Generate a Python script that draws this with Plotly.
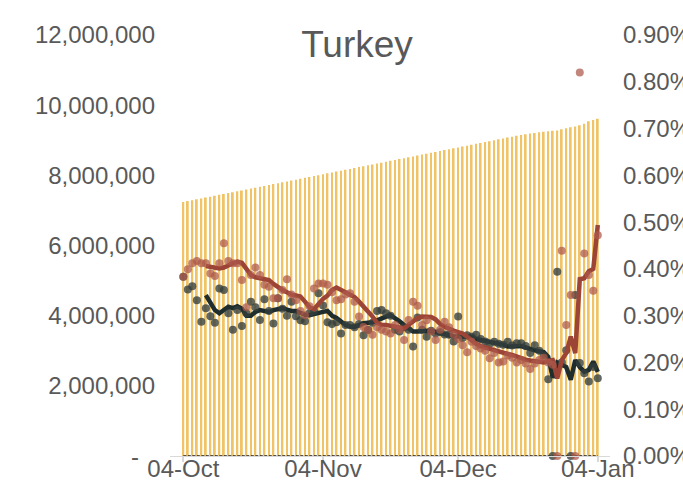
import pandas as pd
import plotly.graph_objects as go

# ---- data ----
start_date = "2020-10-04"
end_date = "2021-01-04"

# cumulative bar series, in thousands (left axis)
bars_k = [
    7240, 7266, 7291, 7316, 7342, 7367, 7393, 7418, 7444, 7469,
    7495, 7520, 7546, 7571, 7597, 7622, 7648, 7673, 7699, 7724,
    7750, 7775, 7801, 7826, 7852, 7877, 7903, 7928, 7954, 7979,
    8005, 8030, 8056, 8081, 8107, 8132, 8158, 8183, 8209, 8234,
    8260, 8285, 8311, 8336, 8362, 8387, 8413, 8438, 8464, 8489,
    8515, 8540, 8566, 8591, 8617, 8642, 8668, 8693, 8719, 8744,
    8770, 8795, 8821, 8846, 8872, 8897, 8923, 8948, 8974, 8999,
    9025, 9050, 9076, 9101, 9127, 9152, 9170, 9190, 9210, 9228,
    9245, 9258, 9270, 9280, 9310, 9345, 9370, 9390, 9430, 9470,
    9540, 9575, 9610,
]

# daily dots, percent (right axis)
dark_dots = [
    0.383, 0.356, 0.363, 0.333, 0.287, 0.316, 0.299, 0.285, 0.358, 0.355,
    0.305, 0.270, 0.312, 0.278, 0.305, 0.330, 0.318, 0.291, 0.335, 0.310,
    0.283, 0.337, 0.315, 0.300, 0.330, 0.299, 0.290, 0.288, 0.305, 0.310,
    0.348, 0.322, 0.286, 0.282, 0.286, 0.262, 0.280, 0.280, 0.275, 0.282,
    0.258, 0.270, 0.285, 0.310, 0.312, 0.305, 0.300, 0.270, 0.266, 0.275,
    0.270, 0.234, 0.296, 0.270, 0.255, 0.268, 0.262, 0.265, 0.260, 0.259,
    0.245, 0.298, 0.252, 0.258, 0.255, 0.259, 0.250, 0.245, 0.240, 0.244,
    0.240, 0.238, 0.244, 0.236, 0.241, 0.241, 0.235, 0.220, 0.237, 0.225,
    0.215, 0.164, 0.0, 0.394, 0.200, 0.226, 0.0, 0.344, 0.199, 0.177,
    0.159, 0.190, 0.166,
]
brown_dots = [
    0.383, 0.399, 0.412, 0.417, 0.412, 0.412, 0.390, 0.385, 0.412, 0.455,
    0.417, 0.412, 0.412, 0.376, 0.318, 0.387, 0.403, 0.387, 0.366, 0.362,
    0.337, 0.337, 0.355, 0.378, 0.345, 0.333, 0.310, 0.301, 0.320, 0.358,
    0.369, 0.369, 0.366, 0.350, 0.333, 0.335, 0.345, 0.348, 0.330, 0.298,
    0.276, 0.269, 0.259, 0.275, 0.270, 0.266, 0.262, 0.280, 0.270, 0.248,
    0.291, 0.330, 0.321, 0.280, 0.290, 0.266, 0.248, 0.270, 0.287, 0.275,
    0.260, 0.250, 0.237, 0.222, 0.244, 0.235, 0.230, 0.225, 0.209, 0.220,
    0.200, 0.202, 0.215, 0.210, 0.200, 0.205, 0.198, 0.186, 0.198, 0.205,
    0.210, 0.200, 0.195, 0.0, 0.439, 0.280, 0.344, 0.0, 0.820, 0.433,
    0.387, 0.353, 0.472,
]

# smoothed lines, percent (right axis); None where not drawn
dark_line = [None] * 5 + [
    0.344, 0.330, 0.312, 0.305, 0.312, 0.319, 0.316, 0.320, 0.315, 0.300,
    0.300, 0.308, 0.312, 0.310, 0.308, 0.312, 0.314, 0.316, 0.313, 0.310,
    0.310, 0.306, 0.302, 0.301, 0.304, 0.306, 0.308, 0.310, 0.300, 0.295,
    0.288, 0.280, 0.277, 0.276, 0.280, 0.284, 0.285, 0.286, 0.290, 0.295,
    0.298, 0.301, 0.295, 0.288, 0.280, 0.272, 0.266, 0.266, 0.266, 0.267,
    0.268, 0.265, 0.262, 0.259, 0.258, 0.256, 0.255, 0.255, 0.255, 0.255,
    0.250, 0.248, 0.246, 0.245, 0.244, 0.242, 0.238, 0.234, 0.234, 0.234,
    0.235, 0.232, 0.228, 0.226, 0.224, 0.222, 0.212, 0.167, 0.200, 0.195,
    0.190, 0.163, 0.205, 0.190, 0.180, 0.184, 0.202, 0.180,
]
brown_line = [None] * 5 + [
    0.406, 0.404, 0.401, 0.401, 0.403, 0.408, 0.412, 0.415, 0.413, 0.400,
    0.387, 0.382, 0.380, 0.379, 0.376, 0.368, 0.360, 0.355, 0.350, 0.345,
    0.343, 0.341, 0.330, 0.318, 0.314, 0.325, 0.336, 0.343, 0.355, 0.360,
    0.355, 0.350, 0.345, 0.340, 0.330, 0.320, 0.308, 0.298, 0.285, 0.280,
    0.280, 0.279, 0.278, 0.275, 0.273, 0.280, 0.288, 0.295, 0.298, 0.298,
    0.297, 0.292, 0.282, 0.276, 0.271, 0.268, 0.265, 0.262, 0.255, 0.246,
    0.240, 0.235, 0.232, 0.228, 0.225, 0.222, 0.220, 0.218, 0.216, 0.212,
    0.208, 0.206, 0.204, 0.202, 0.200, 0.200, 0.203, 0.205, 0.166, 0.205,
    0.220, 0.255, 0.220, 0.378, 0.380, 0.395, 0.400, 0.494,
]

left_tickvals = [2000000, 4000000, 6000000, 8000000, 10000000, 12000000]
left_ticktext = ["2,000,000", "4,000,000", "6,000,000",
                 "8,000,000", "10,000,000", "12,000,000"]
zero_label = "-"
x_tickvals = ["2020-10-04", "2020-11-04", "2020-12-04", "2021-01-04"]
x_ticktext = ["04-Oct", "04-Nov", "04-Dec", "04-Jan"]
title_text = "Turkey"

# ---- figure ----
dates = pd.date_range(start_date, end_date, freq="D")
bars = [v * 1000 for v in bars_k]
pct = lambda arr: [None if v is None else v / 100 for v in arr]

FONT = "Liberation Sans, Arial, sans-serif"
GREY = "#595959"

fig = go.Figure()
fig.add_trace(go.Bar(x=dates, y=bars, marker=dict(color="#F0C466", line_width=0),
                     yaxis="y", hoverinfo="skip"))
# zero baseline (dashed)
fig.add_trace(go.Scatter(x=[dates[0], dates[-1]], y=[0, 0], mode="lines",
                         line=dict(color="#1a1a1a", width=1.5, dash="3px,1.5px"),
                         yaxis="y", hoverinfo="skip"))
fig.add_trace(go.Scatter(x=dates, y=pct(dark_line), mode="lines",
                         line=dict(color="#1F2D2D", width=4.5), yaxis="y2",
                         connectgaps=False))
fig.add_trace(go.Scatter(x=dates, y=pct(dark_dots), mode="markers",
                         marker=dict(color="rgba(50,62,60,0.78)", size=8, line_width=0),
                         yaxis="y2", cliponaxis=False))
fig.add_trace(go.Scatter(x=dates, y=pct(brown_line), mode="lines",
                         line=dict(color="#9C4436", width=4.5), yaxis="y2",
                         connectgaps=False))
fig.add_trace(go.Scatter(x=dates, y=pct(brown_dots), mode="markers",
                         marker=dict(color="rgba(172,88,74,0.72)", size=8, line_width=0),
                         yaxis="y2", cliponaxis=False))

# zero tick label of the left axis (accounting-style dash)
fig.add_annotation(text=zero_label, xref="paper", x=-29 / 440, xanchor="right",
                   yref="y", y=0, yanchor="middle", showarrow=False,
                   font=dict(family=FONT, size=24, color=GREY))

fig.update_layout(
    width=683, height=495,
    margin=dict(l=170, r=73, t=35, b=39),
    paper_bgcolor="white", plot_bgcolor="white",
    showlegend=False,
    bargap=0.6,
    font=dict(family=FONT, color=GREY, size=24),
    title=dict(text=title_text, x=357 / 683, xanchor="center", xref="container",
               y=1 - 44 / 495, yanchor="middle", yref="container",
               font=dict(family=FONT, size=37, color=GREY)),
    xaxis=dict(
        type="date",
        range=["2020-10-01 01:00", "2021-01-06 17:00"],
        tickvals=x_tickvals, ticktext=x_ticktext,
        ticks="outside", ticklen=5, tickcolor="#D9D9D9", tickwidth=1.5,
        ticklabelstandoff=-14,
        showline=True, linecolor="#D9D9D9", linewidth=1,
        showgrid=False, zeroline=False,
        tickfont=dict(size=24, color=GREY, family=FONT),
        automargin=False,
    ),
    yaxis=dict(
        range=[0, 12000000],
        tickvals=left_tickvals, ticktext=left_ticktext,
        showgrid=False, zeroline=False, showline=False,
        ticks="", ticklabelstandoff=14,
        tickfont=dict(size=24, color=GREY, family=FONT),
        automargin=False,
    ),
    yaxis2=dict(
        range=[0, 0.009], overlaying="y", side="right",
        tickformat=".2%", dtick=0.001, tick0=0,
        showgrid=False, zeroline=False, showline=False,
        ticks="", ticklabelstandoff=12,
        tickfont=dict(size=24, color=GREY, family=FONT),
        automargin=False,
    ),
)

fig.write_html(
    "out.html",
    config={"displayModeBar": False},
    post_script="document.body.style.margin='0';document.body.style.overflow='hidden';",
)
